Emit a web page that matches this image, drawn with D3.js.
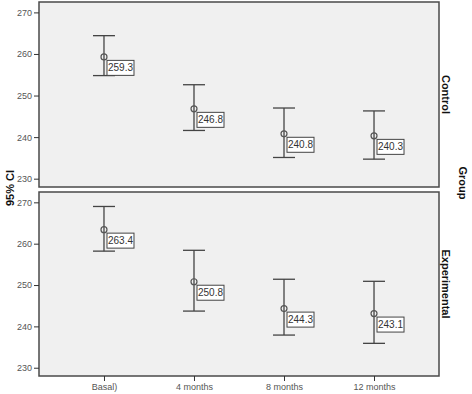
<!DOCTYPE html>
<html>
<head>
<meta charset="utf-8">
<script src="https://cdn.jsdelivr.net/npm/d3@7"></script>
<style>
  body { margin: 0; background: #fff; }
  svg { display: block; font-family: Arial, "Liberation Sans", sans-serif; }
</style>
</head>
<body>
<div id="chart"></div>
<script>
// data
const times = ["Basal)", "4 months", "8 months", "12 months"];
const groups = ["Control", "Experimental"];
const means = [
    [259.3, 246.8, 240.8, 240.3],
    [263.4, 250.8, 244.3, 243.1]
];
const lower = [
    [254.8, 241.6, 235.1, 234.7],
    [258.2, 243.7, 237.9, 235.9]
];
const upper = [
    [264.4, 252.6, 247.0, 246.3],
    [269.0, 258.4, 251.4, 250.9]
];
const yTicks = [230, 240, 250, 260, 270];

function main() {
    const W = 472, H = 394;
    const left = 39, right = 439;
    const panels = [{top: 2, bottom: 187}, {top: 192, bottom: 376}];

    const svg = d3.select("#chart").append("svg")
        .attr("width", W).attr("height", H);

    const x = d3.scalePoint()
        .domain(times)
        .range([left, right])
        .padding(0.722);

    panels.forEach(function(p, gi) {
        const y = d3.scaleLinear()
            .domain([228, 272.5])
            .range([p.bottom, p.top]);

        svg.append("rect")
            .attr("x", left).attr("y", p.top)
            .attr("width", right - left).attr("height", p.bottom - p.top)
            .attr("fill", "#f0f0f0")
            .attr("stroke", "#4a4a4a")
            .attr("stroke-width", 1.5);

        // y axis
        const ya = svg.append("g")
            .attr("transform", `translate(${left},0)`)
            .call(d3.axisLeft(y).tickValues(yTicks).tickSize(5).tickPadding(2));
        ya.select(".domain").remove();
        ya.selectAll("line").attr("stroke", "#333");
        ya.selectAll("text").attr("fill", "#555").style("font-size", "9px");

        const g = svg.append("g");
        const rows = times.map(function(t, i) {
            return {t: t, m: means[gi][i], lo: lower[gi][i], hi: upper[gi][i]};
        });

        const bars = g.selectAll(".bar").data(rows).enter().append("g");
        bars.append("line")
            .attr("x1", d => x(d.t)).attr("x2", d => x(d.t))
            .attr("y1", d => y(d.hi)).attr("y2", d => y(d.lo))
            .attr("stroke", "#444").attr("stroke-width", 1.3);
        bars.append("line")
            .attr("x1", d => x(d.t) - 11).attr("x2", d => x(d.t) + 11)
            .attr("y1", d => y(d.hi)).attr("y2", d => y(d.hi))
            .attr("stroke", "#444").attr("stroke-width", 1.3);
        bars.append("line")
            .attr("x1", d => x(d.t) - 11).attr("x2", d => x(d.t) + 11)
            .attr("y1", d => y(d.lo)).attr("y2", d => y(d.lo))
            .attr("stroke", "#444").attr("stroke-width", 1.3);
        bars.append("circle")
            .attr("cx", d => x(d.t)).attr("cy", d => y(d.m))
            .attr("r", 3)
            .attr("fill", "none")
            .attr("stroke", "#555").attr("stroke-width", 1.2);

        // value labels
        bars.append("rect")
            .attr("x", d => x(d.t) + 3).attr("y", d => y(d.m) + 3.5)
            .attr("width", 27).attr("height", 15)
            .attr("fill", "#fff")
            .attr("stroke", "#444").attr("stroke-width", 1);
        bars.append("text")
            .attr("x", d => x(d.t) + 16.5).attr("y", d => y(d.m) + 14.5)
            .attr("text-anchor", "middle")
            .attr("fill", "#333")
            .style("font-size", "10px")
            .text(d => d.m.toFixed(1));

        // panel label
        const cy = (p.top + p.bottom) / 2;
        svg.append("text")
            .attr("transform", `translate(442, ${cy}) rotate(90)`)
            .attr("text-anchor", "middle")
            .attr("fill", "#111")
            .style("font-size", "11px")
            .style("font-weight", "bold")
            .text(groups[gi]);
    });

    // x axis
    const xa = svg.append("g")
        .attr("transform", `translate(0, ${panels[1].bottom})`)
        .call(d3.axisBottom(x).tickSize(5).tickPadding(3));
    xa.select(".domain").remove();
    xa.selectAll("line").attr("stroke", "#333");
    xa.selectAll("text").attr("fill", "#555").style("font-size", "9px");

    // axis titles
    svg.append("text")
        .attr("transform", "translate(14, 188) rotate(-90)")
        .attr("text-anchor", "middle")
        .attr("fill", "#111")
        .style("font-size", "11px")
        .style("font-weight", "bold")
        .text("95% CI");

    svg.append("text")
        .attr("transform", "translate(459, 183) rotate(90)")
        .attr("text-anchor", "middle")
        .attr("fill", "#111")
        .style("font-size", "11px")
        .style("font-weight", "bold")
        .text("Group");
}

main()
</script>
</body>
</html>
